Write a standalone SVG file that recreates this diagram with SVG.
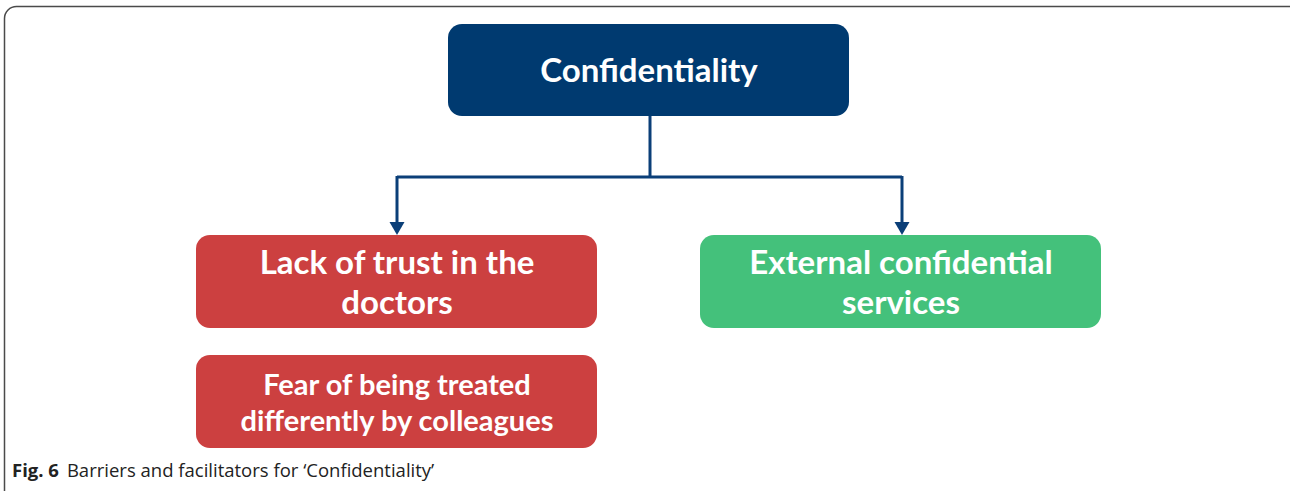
<svg xmlns="http://www.w3.org/2000/svg" width="1290" height="491" viewBox="0 0 1290 491">
<defs>
<style>
.frame{fill:#ffffff;stroke:#4a4a4a;stroke-width:1.5}
.box{stroke:none}
.navy{fill:#003a70}
.red{fill:#cc4040}
.green{fill:#44c17b}
.lbl{font-family:Lato,"Open Sans","DejaVu Sans",sans-serif;font-weight:700;fill:#ffffff;text-anchor:middle}
.conn{fill:none;stroke:#0b3f78;stroke-width:3}
.head{fill:#0b3f78}
.cap{font-family:"Open Sans","Liberation Sans",sans-serif;font-size:18.5px;fill:#222222}
</style>
</defs>
<rect class="frame" x="4.5" y="6.5" width="1300" height="500" rx="12"/>
<g id="connectors">
<path class="conn" d="M650,116 V177"/>
<path class="conn" d="M397,177 H902"/>
<path class="conn" d="M397,176 V224"/>
<path class="conn" d="M902,176 V224"/>
<path class="head" d="M389.5,222 L404.5,222 L397,235 Z"/>
<path class="head" d="M894.5,222 L909.5,222 L902,235 Z"/>
</g>
<g id="node-confidentiality">
<rect class="box navy" x="448" y="24" width="401" height="92" rx="14"/>
<text class="lbl" x="649" y="82" font-size="33">Confidentiality</text>
</g>
<g id="node-lack-of-trust">
<rect class="box red" x="196" y="235" width="401" height="93" rx="14"/>
<text class="lbl" x="397" y="274" font-size="33">Lack of trust in the</text>
<text class="lbl" x="397" y="314" font-size="33">doctors</text>
</g>
<g id="node-external">
<rect class="box green" x="700" y="235" width="401" height="93" rx="14"/>
<text class="lbl" x="901" y="274" font-size="33">External confidential</text>
<text class="lbl" x="901" y="314" font-size="33">services</text>
</g>
<g id="node-fear">
<rect class="box red" x="196" y="355" width="401" height="93" rx="14"/>
<text class="lbl" x="397" y="395" font-size="29">Fear of being treated</text>
<text class="lbl" x="397" y="431" font-size="29">differently by colleagues</text>
</g>
<g id="caption">
<text class="cap" x="12" y="477"><tspan font-weight="700">Fig. 6</tspan><tspan dx="8">Barriers and facilitators for ‘Confidentiality’</tspan></text>
</g>
</svg>
